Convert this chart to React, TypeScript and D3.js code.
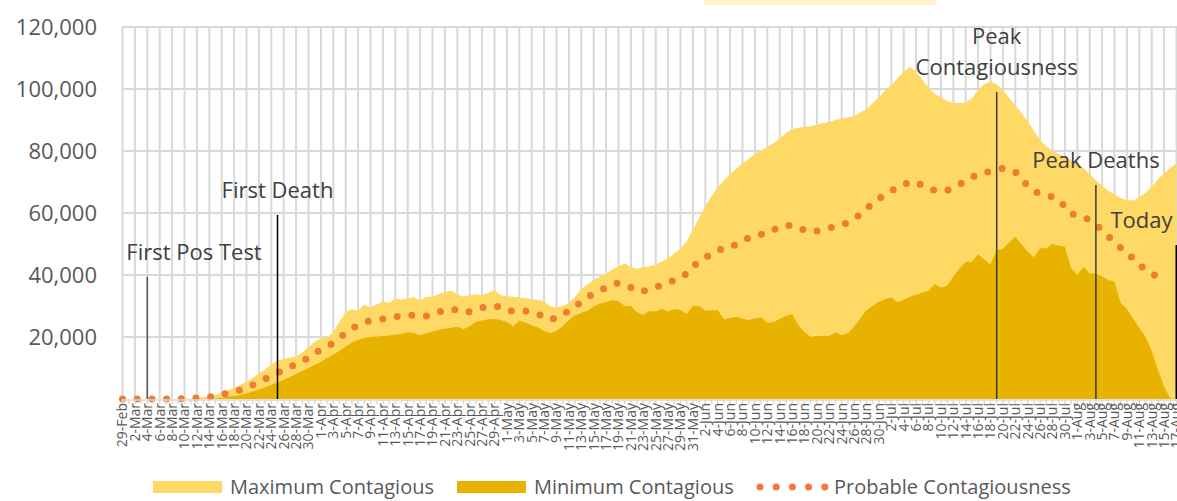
import React from 'react';
import * as d3 from 'd3';

// daily values, in thousands, starting 29-Feb-2020
const startDate = new Date(Date.UTC(2020, 1, 29));

const maxContagious = [
  0, 0, 0, 0, 0, 0, 0, 0, 0, 0,
  0.1, 0.2, 0.4, 0.6, 0.8, 1.3, 2.0, 2.8, 3.6, 4.5,
  5.6, 6.8, 8.2, 9.6, 11.2, 12.3, 12.9, 13.3, 13.8, 15.0,
  16.8, 18.5, 19.5, 20.0, 21.5, 25.0, 28.0, 29.0, 28.5, 30.5,
  29.5, 30.5, 31.5, 31.0, 32.5, 32.0, 32.5, 32.8, 31.8, 33.0,
  33.0, 33.8, 34.5, 35.0, 33.8, 33.0, 33.5, 33.8, 33.5, 34.2,
  35.2, 33.5, 33.2, 33.0, 32.8, 32.5, 32.2, 32.0, 31.5, 29.8,
  29.6, 30.0, 31.0, 33.0, 35.5, 37.0, 38.5, 39.5, 40.5, 41.8,
  42.8, 43.8, 42.5, 42.0, 42.5, 42.8, 43.5, 44.3, 45.5, 47.0,
  48.5, 51.0, 54.5, 58.5, 62.0, 65.5, 68.3, 70.5, 72.5, 74.3,
  76.0, 77.5, 79.0, 80.2, 81.2, 82.5, 84.0, 85.8, 87.0, 87.5,
  87.8, 88.0, 88.5, 89.0, 89.3, 90.0, 90.5, 90.8, 91.2, 92.5,
  93.5, 95.5, 97.3, 99.5, 101.3, 103.5, 105.5, 107.2, 105.5, 103.0,
  100.5, 98.5, 97.3, 96.2, 95.6, 95.5, 95.6, 97.0, 99.7, 101.5,
  102.4, 101.5, 99.7, 97.2, 94.7, 92.2, 89.5, 86.5, 83.5, 81.5,
  80.0, 79.0, 78.0, 77.0, 76.0, 74.5, 72.5, 70.6, 68.8, 67.2,
  66.0, 64.8, 64.2, 64.0, 65.0, 66.5, 68.5, 70.8, 72.8, 74.5, 76.0,
];

const minContagious = [
  0, 0, 0, 0, 0, 0, 0, 0, 0, 0,
  0, 0, 0, 0.05, 0.1, 0.2, 0.4, 0.7, 1.0, 1.3,
  1.8, 2.4, 3.1, 3.8, 4.6, 5.3, 6.2, 7.1, 8.1, 9.0,
  10.0, 11.0, 12.0, 13.2, 14.3, 15.6, 16.9, 18.2, 19.1, 19.7,
  20.0, 20.2, 20.3, 20.5, 20.8, 21.0, 21.5, 21.3, 20.6, 21.3,
  21.8, 22.3, 22.7, 23.0, 23.3, 22.5, 23.5, 24.9, 25.3, 25.7,
  25.8, 25.5, 24.8, 23.5, 25.3, 24.6, 23.8, 23.1, 21.9, 21.2,
  22.0, 23.5, 25.5, 27.0, 27.8, 28.5, 29.8, 30.8, 31.3, 31.9,
  31.5, 30.0, 30.0, 28.0, 27.1, 28.5, 28.2, 29.2, 28.2, 29.0,
  28.7, 27.4, 30.0, 30.0, 28.5, 28.6, 28.7, 25.7, 26.1, 26.5,
  26.0, 25.5, 26.0, 26.4, 24.6, 24.8, 25.8, 26.8, 27.3, 23.9,
  21.5, 20.1, 20.3, 20.4, 20.4, 21.5, 20.6, 21.2, 23.3, 26.0,
  28.7, 30.0, 31.4, 32.2, 32.8, 31.2, 32.0, 33.0, 33.6, 34.3,
  34.9, 37.1, 35.9, 36.5, 39.5, 42.0, 44.3, 44.3, 46.7, 45.0,
  43.5, 48.1, 48.4, 50.5, 52.4, 49.8, 47.5, 45.7, 48.6, 48.6,
  50.0, 49.5, 49.1, 42.2, 40.0, 42.7, 40.5, 40.5, 39.5, 38.4,
  37.8, 31.0, 29.0, 26.0, 23.0, 20.1, 15.5, 9.5, 4.0, 0.2, 0,
];

const probableContagiousness = [
  0, 0, 0, 0, 0, 0, 0, 0, 0, 0,
  0.1, 0.2, 0.3, 0.5, 0.65, 1.0, 1.4, 1.9, 2.4, 2.9,
  3.7, 4.5, 5.5, 6.5, 7.4, 8.4, 9.5, 10.3, 11.2, 12.2,
  13.3, 14.7, 16.0, 17.0, 18.1, 19.7, 21.3, 22.7, 23.9, 24.7,
  25.3, 25.6, 25.8, 26.2, 26.5, 26.8, 27.1, 27.0, 26.7, 26.8,
  27.5, 28.1, 28.6, 29.0, 28.6, 27.9, 28.2, 29.0, 29.5, 29.8,
  30.1, 29.6, 28.6, 28.3, 28.5, 28.4, 28.0, 27.5, 26.4, 25.5,
  26.2, 27.1, 28.5, 29.8, 31.4, 32.9, 34.0, 34.9, 36.0, 37.0,
  37.4, 37.0, 36.0, 34.8, 34.8, 35.5, 36.0, 36.8, 37.5, 38.3,
  39.0, 40.5, 43.0, 44.0, 45.5, 47.0, 48.0, 48.5, 48.8, 50.0,
  51.0, 52.0, 52.8, 53.1, 53.3, 54.5, 55.5, 55.9, 56.0, 55.5,
  54.4, 53.9, 54.2, 54.7, 55.2, 55.6, 56.2, 56.9, 58.0, 59.6,
  61.4, 63.0, 64.5, 66.2, 67.3, 68.0, 69.0, 70.2, 69.8, 69.0,
  68.0, 67.3, 67.1, 67.3, 68.0, 69.2, 70.3, 71.5, 72.7, 73.1,
  73.4, 73.8, 74.4, 74.0, 73.3, 71.0, 68.8, 67.0, 66.3, 65.9,
  65.2, 64.4, 62.0, 59.7, 59.3, 58.8, 57.6, 56.2, 54.6, 52.5,
  50.5, 48.8, 47.1, 45.3, 43.2, 41.8, 40.5, 39.3, 38.5,
];

const yTicks = [20000, 40000, 60000, 80000, 100000, 120000];

// annotations: label lines, day offset from start, top of marker line (value)
const annotationLabels = [['First Pos Test'], ['First Death'], ['Peak', 'Contagiousness'], ['Peak Deaths'], ['Today']];
const annotationDays = [4, 25, 141, 157, 170];
const annotationTops = [39400, 59400, 99000, 69000, 49700];

const legendLabels = ['Maximum Contagious', 'Minimum Contagious', 'Probable Contagiousness'];

const COLORS = { max: '#FFD966', min: '#E8B200', prob: '#ED7D31', grid: '#D9D9D9', text: '#595959', note: '#404040' };
const FONT = "'Open Sans', sans-serif";

export default function App() {
  const width = 1177;
  const height = 501;

  const days = d3.utcDay.range(startDate, d3.utcDay.offset(startDate, maxContagious.length));
  const x = d3.scaleUtc()
    .domain([startDate, d3.utcDay.offset(startDate, 170)])
    .range([122.5, 1176.5]);
  const y = d3.scaleLinear().domain([0, 120000]).range([399, 27]);
  const fmt = d3.utcFormat('%-d-%b');

  const area = d3.area<number>()
    .x((_, i) => x(days[i]))
    .y0(y(0))
    .y1(d => y(d * 1000));
  const line = d3.line<number>()
    .x((_, i) => x(days[i]))
    .y(d => y(d * 1000));

  const labelDays = days.filter((_, i) => i % 2 === 0);

  // text placement per annotation: anchor, dx
  const noteLayout = [
    { anchor: 'start', dx: -21 },
    { anchor: 'middle', dx: 0 },
    { anchor: 'middle', dx: 0 },
    { anchor: 'middle', dx: 0 },
    { anchor: 'end', dx: -4 },
  ];
  const noteStroke = ['#595959', '#000', '#3a3a3a', '#3a3a3a', '#000'];
  const noteWidth = [1.5, 1.5, 1.5, 1.5, 2];

  const legendX = [153, 457, 756];

  return (
    <>
      <style>{'body{margin:0}'}</style>
      <svg width={width} height={height} style={{ display: 'block', background: '#fff' }} fontFamily={FONT}>
        <rect x={704} y={0} width={232} height={5} fill="#FFF2CC" />

        {/* gridlines */}
        <g stroke={COLORS.grid} strokeWidth={2}>
          {labelDays.map((d, i) => (
            <line key={i} x1={x(d)} x2={x(d)} y1={y(120000)} y2={y(0)} />
          ))}
          {yTicks.map(t => (
            <line key={t} x1={122} x2={width} y1={y(t)} y2={y(t)} />
          ))}
        </g>

        <path d={area(maxContagious) ?? ''} fill={COLORS.max} />
        <path d={area(minContagious) ?? ''} fill={COLORS.min} />
        <path
          d={line(probableContagiousness) ?? ''}
          fill="none"
          stroke={COLORS.prob}
          strokeWidth={7}
          strokeLinecap="round"
          strokeDasharray="0 14.7"
        />

        {/* x axis */}
        <line x1={122} x2={width} y1={y(0) + 1} y2={y(0) + 1} stroke={COLORS.grid} strokeWidth={1.5} />
        <g stroke={COLORS.grid} strokeWidth={1.5}>
          {days.map((d, i) => (
            <line key={i} x1={x(d)} x2={x(d)} y1={y(0) + 1} y2={y(0) + 5} />
          ))}
        </g>
        <g fontSize={14} fill={COLORS.text}>
          {labelDays.map((d, i) => (
            <text
              key={i}
              transform={`translate(${x(d)},${y(0) + 4}) rotate(-90)`}
              textAnchor="end"
              dy="0.35em"
            >
              {fmt(d)}
            </text>
          ))}
        </g>

        {/* y axis labels */}
        <g fontSize={22} fill={COLORS.text} textAnchor="end">
          {yTicks.map(t => (
            <text key={t} x={97} y={y(t)} dy="0.36em">{d3.format(',')(t)}</text>
          ))}
        </g>

        {/* annotations */}
        {annotationLabels.map((lines, i) => {
          const ax = x(d3.utcDay.offset(startDate, annotationDays[i]));
          const top = y(annotationTops[i]);
          return (
            <g key={i}>
              <line x1={ax} x2={ax} y1={top} y2={y(0)} stroke={noteStroke[i]} strokeWidth={noteWidth[i]} />
              {lines.map((l, j) => (
                <text
                  key={j}
                  x={ax + noteLayout[i].dx}
                  y={top - 25 - (lines.length - 1 - j) * 31}
                  dy="0.36em"
                  fontSize={22}
                  fill={COLORS.note}
                  textAnchor={noteLayout[i].anchor}
                >
                  {l}
                </text>
              ))}
            </g>
          );
        })}

        {/* legend */}
        <g fontSize={20} fill={COLORS.text}>
          {legendLabels.map((label, i) => (
            <g key={label} transform={`translate(${legendX[i]},487)`}>
              {i < 2 ? (
                <rect x={0} y={-6} width={69} height={12} fill={i === 0 ? COLORS.max : COLORS.min} />
              ) : (
                d3.range(5).map(k => <circle key={k} cx={4 + k * 16.2} cy={0} r={3.5} fill={COLORS.prob} />)
              )}
              <text x={i < 2 ? 77 : 78} dy="0.35em">{label}</text>
            </g>
          ))}
        </g>
      </svg>
    </>
  );
}
